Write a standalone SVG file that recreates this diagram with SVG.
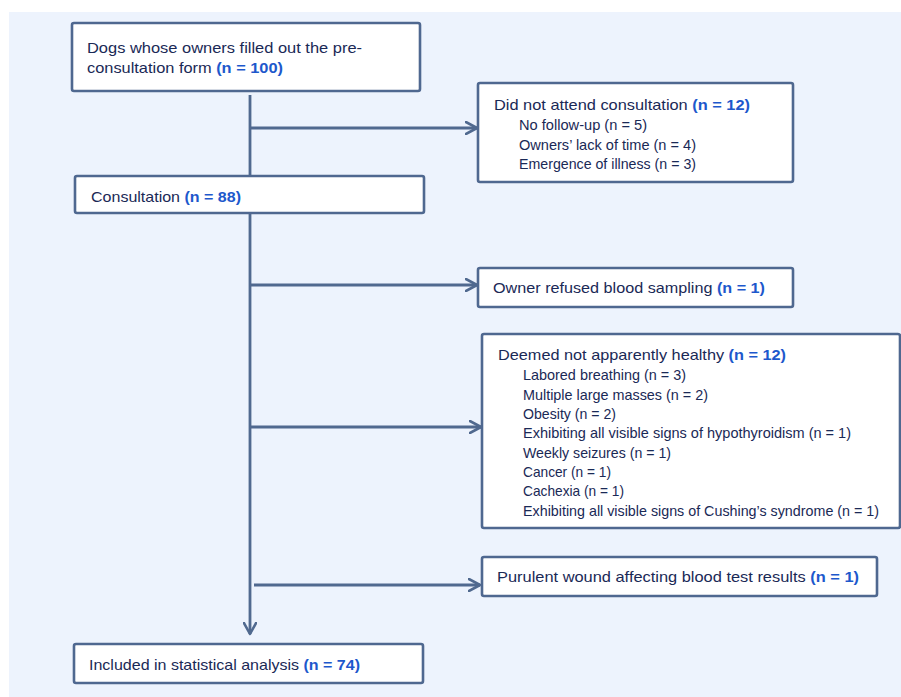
<svg xmlns="http://www.w3.org/2000/svg" width="901" height="697" viewBox="0 0 901 697">
<defs>
<style>
.bg{fill:#EDF3FD}
.box{fill:#FFFFFF;stroke:#4F6890;stroke-width:2.6}
.ln{fill:none;stroke:#50698F;stroke-width:2.8}
text{font-family:"Liberation Sans",Arial,sans-serif;font-size:15px;fill:#1A2956}
.n{font-weight:bold;fill:#1D58CC}
</style>
<marker id="arr" viewBox="0 0 14 14" refX="12" refY="7" markerWidth="14" markerHeight="14" markerUnits="userSpaceOnUse" orient="auto">
<path d="M1,1 L12,7 L1,13" fill="none" stroke="#50698F" stroke-width="2.6" stroke-linecap="round" stroke-linejoin="round"/>
</marker>
</defs>
<rect class="bg" x="9" y="12" width="892" height="685"/>
<g id="connectors">
<path class="ln" d="M250,95 V176"/>
<path class="ln" d="M250,213 V634" marker-end="url(#arr)"/>
<path class="ln" d="M250,128 H477" marker-end="url(#arr)"/>
<path class="ln" d="M250,285 H477" marker-end="url(#arr)"/>
<path class="ln" d="M250,427 H481" marker-end="url(#arr)"/>
<path class="ln" d="M254,585 H480" marker-end="url(#arr)"/>
</g>
<g id="node-precons">
<rect class="box" x="72" y="23" width="348" height="68" rx="2"/>
<text x="87" y="53" textLength="275" lengthAdjust="spacingAndGlyphs">Dogs whose owners filled out the pre-</text>
<text x="87" y="73" textLength="196" lengthAdjust="spacingAndGlyphs">consultation form <tspan class="n">(n = 100)</tspan></text>
</g>
<g id="node-consultation">
<rect class="box" x="75" y="176" width="349" height="37" rx="2"/>
<text x="91" y="202" textLength="150" lengthAdjust="spacingAndGlyphs">Consultation <tspan class="n">(n = 88)</tspan></text>
</g>
<g id="node-notattend">
<rect class="box" x="478" y="83" width="315" height="99" rx="2"/>
<text x="494" y="110" textLength="256" lengthAdjust="spacingAndGlyphs">Did not attend consultation <tspan class="n">(n = 12)</tspan></text>
<text x="519" y="130" textLength="128" lengthAdjust="spacingAndGlyphs">No follow-up (n = 5)</text>
<text x="519" y="149.5" textLength="177" lengthAdjust="spacingAndGlyphs">Owners’ lack of time (n = 4)</text>
<text x="519" y="169" textLength="177" lengthAdjust="spacingAndGlyphs">Emergence of illness (n = 3)</text>
</g>
<g id="node-refused">
<rect class="box" x="478" y="268" width="315" height="39" rx="2"/>
<text x="493" y="293" textLength="272" lengthAdjust="spacingAndGlyphs">Owner refused blood sampling <tspan class="n">(n = 1)</tspan></text>
</g>
<g id="node-unhealthy">
<rect class="box" x="482" y="334" width="418" height="194" rx="2"/>
<text x="498" y="360" textLength="288" lengthAdjust="spacingAndGlyphs">Deemed not apparently healthy <tspan class="n">(n = 12)</tspan></text>
<text x="523" y="380" textLength="163" lengthAdjust="spacingAndGlyphs">Labored breathing (n = 3)</text>
<text x="523" y="399.5" textLength="185" lengthAdjust="spacingAndGlyphs">Multiple large masses (n = 2)</text>
<text x="523" y="419" textLength="93" lengthAdjust="spacingAndGlyphs">Obesity (n = 2)</text>
<text x="523" y="438" textLength="328" lengthAdjust="spacingAndGlyphs">Exhibiting all visible signs of hypothyroidism (n = 1)</text>
<text x="523" y="457.5" textLength="148" lengthAdjust="spacingAndGlyphs">Weekly seizures (n = 1)</text>
<text x="523" y="477" textLength="88" lengthAdjust="spacingAndGlyphs">Cancer (n = 1)</text>
<text x="523" y="496" textLength="101" lengthAdjust="spacingAndGlyphs">Cachexia (n = 1)</text>
<text x="523" y="515.5" textLength="356" lengthAdjust="spacingAndGlyphs">Exhibiting all visible signs of Cushing’s syndrome (n = 1)</text>
</g>
<g id="node-purulent">
<rect class="box" x="482" y="557" width="395" height="39" rx="2"/>
<text x="497" y="582" textLength="362" lengthAdjust="spacingAndGlyphs">Purulent wound affecting blood test results <tspan class="n">(n = 1)</tspan></text>
</g>
<g id="node-included">
<rect class="box" x="74" y="644" width="349" height="39" rx="2"/>
<text x="89" y="669.5" textLength="271" lengthAdjust="spacingAndGlyphs">Included in statistical analysis <tspan class="n">(n = 74)</tspan></text>
</g>
</svg>
